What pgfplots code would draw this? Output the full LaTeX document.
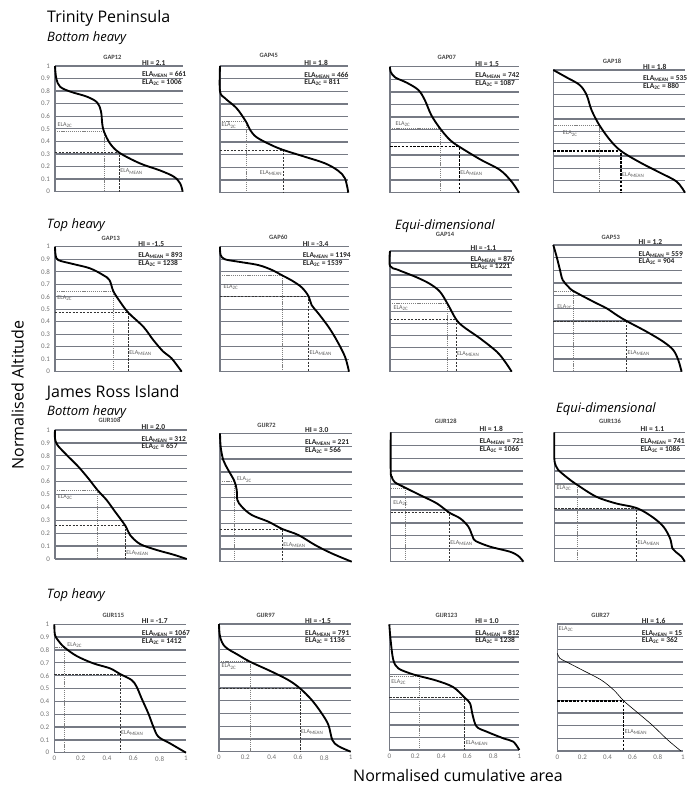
\documentclass[border=0pt]{standalone}
\usepackage{pgfplots}
\pgfplotsset{compat=1.18}
\usepackage{fontspec}
\setmainfont{Carlito}
\newfontfamily\headfont{Open Sans}

\definecolor{gridc}{RGB}{118,122,132}
\definecolor{tickc}{RGB}{115,115,115}
\definecolor{infoc}{RGB}{38,38,38}
\definecolor{ttlc}{RGB}{70,70,70}
\definecolor{labc}{RGB}{95,95,95}

\tikzset{
  infotext/.style={anchor=base west, inner sep=0pt, font=\fontsize{7.5}{8}\selectfont\bfseries, text=infoc},
  ptitle/.style={inner sep=0pt, font=\fontsize{6.5}{7}\selectfont\bfseries, text=ttlc},
  elalab/.style={inner sep=0.5pt, font=\fontsize{6}{7}\selectfont, text=labc},
  head/.style={anchor=base west, inner sep=0pt, font=\headfont\fontsize{16}{18}\selectfont},
  subhead/.style={anchor=base west, inner sep=0pt, font=\headfont\itshape\fontsize{13}{15}\selectfont},
}

\pgfplotsset{
  panel/.style={
    scale only axis, anchor=south west, clip=false,
    xmin=0, xmax=1, ymin=0, ymax=1,
    axis lines*=left,
    axis line style={draw=gridc, line width=1.3pt},
    xtick={0,0.2,0.4,0.6,0.8,1},
    ytick={0,0.1,0.2,0.3,0.4,0.5,0.6,0.7,0.8,0.9,1},
    xticklabels={}, yticklabels={},
    major tick length=0pt,
    ymajorgrids, grid style={draw=gridc, line width=1.3pt},
    ticklabel style={font=\fontsize{7}{8}\selectfont, text=tickc},
    yticklabel style={xshift=-1.5pt},
    /pgf/number format/assume math mode=true,
  },
  ylabs/.style={yticklabels={0,0.1,0.2,0.3,0.4,0.5,0.6,0.7,0.8,0.9,1}},
  xlabs/.style={xticklabels={0,0.2,0.4,0.6,0.8,1}},
  hyps/.style={black, line width=1.85pt, smooth, tension=0.55},
  ela2c/.style={draw=black!50, line width=0.5pt, dash pattern=on 1.2pt off 0.9pt},
  elamean/.style={draw=black!80, line width=0.6pt, dash pattern=on 2.2pt off 1.3pt},
  elameanbold/.style={draw=black, line width=1.3pt, dash pattern=on 2.6pt off 1.3pt},
}

% panel annotations
\newcommand{\info}[4]{%
  \node[infotext] at (rel axis cs:#1,1.005) {HI = #2};
  \node[infotext] at (rel axis cs:#1,0.913) {ELA\textsubscript{MEAN} = #3};
  \node[infotext] at (rel axis cs:#1,0.853) {ELA\textsubscript{2C} = #4};
}
\newcommand{\ptitle}[3]{\node[ptitle, yshift=#2pt] at (rel axis cs:#1,1) {#3};}
\newcommand{\labtwoc}[2]{\node[elalab, anchor=west] at (rel axis cs:#1,#2) {ELA\textsubscript{2C}};}
\newcommand{\labmean}[3]{\node[elalab, anchor=#3] at (rel axis cs:#1,#2) {ELA\textsubscript{MEAN}};}

\begin{document}
\begin{tikzpicture}

% ---------------- Trinity Peninsula ----------------
\node[head] at (47pt,-22.5pt) {Trinity Peninsula};
\node[subhead] at (47pt,-41.7pt) {Bottom heavy};

\begin{axis}[panel, ylabs, at={(55pt,-191.7pt)}, width=127.7pt, height=125.7pt]
\addplot[ela2c] coordinates {(0,0.477) (0.384,0.477) (0.384,0)};
\addplot[elamean] coordinates {(0,0.31) (0.504,0.31) (0.504,0)};
\addplot[hyps] coordinates {(0,1) (0.01,0.9) (0.04,0.835) (0.12,0.796) (0.25,0.756) (0.33,0.71) (0.36,0.64) (0.37,0.54) (0.384,0.477) (0.43,0.385) (0.504,0.31) (0.666,0.225) (0.82,0.17) (0.93,0.12) (0.98,0.066) (1,0)};
\ptitle{0.45}{8.5}{GAP12}
\info{0.68}{2.1}{661}{1006}
\labtwoc{0.016}{0.53}
\labmean{0.507}{0.16}{west}
\end{axis}

\begin{axis}[panel, at={(220pt,-192.7pt)}, width=128.3pt, height=126.7pt]
\addplot[ela2c] coordinates {(0,0.56) (0.203,0.56) (0.203,0)};
\addplot[elamean] coordinates {(0,0.337) (0.494,0.337) (0.494,0)};
\addplot[hyps] coordinates {(0,1) (0,0.8) (0.04,0.745) (0.13,0.666) (0.203,0.56) (0.235,0.495) (0.286,0.437) (0.40,0.376) (0.494,0.337) (0.66,0.284) (0.818,0.232) (0.92,0.174) (0.974,0.113) (1,0)};
\ptitle{0.38}{10.3}{GAP45}
\info{0.656}{1.8}{466}{811}
\labtwoc{0.008}{0.529}
\labmean{0.49}{0.157}{east}
\end{axis}

\begin{axis}[panel, at={(390pt,-192.7pt)}, width=129pt, height=126pt]
\addplot[ela2c] coordinates {(0,0.51) (0.388,0.51) (0.388,0)};
\addplot[elameanbold] coordinates {(0,0.365) (0.537,0.365) (0.537,0)};
\addplot[hyps] coordinates {(0,1) (0.005,0.96) (0.04,0.915) (0.13,0.873) (0.22,0.815) (0.27,0.735) (0.32,0.616) (0.388,0.51) (0.465,0.418) (0.537,0.365) (0.698,0.265) (0.853,0.18) (0.943,0.087) (1,0)};
\ptitle{0.44}{9}{GAP07}
\info{0.66}{1.5}{742}{1087}
\labtwoc{0.039}{0.545}
\labmean{0.54}{0.155}{west}
\end{axis}

\begin{axis}[panel, at={(553.3pt,-192.7pt)}, width=131.7pt, height=122.7pt]
\addplot[ela2c] coordinates {(0,0.552) (0.349,0.552) (0.349,0)};
\addplot[elameanbold] coordinates {(0,0.34) (0.514,0.34) (0.514,0)};
\addplot[hyps] coordinates {(0,1) (0.10,0.94) (0.20,0.878) (0.253,0.796) (0.29,0.674) (0.349,0.552) (0.43,0.43) (0.514,0.34) (0.658,0.247) (0.81,0.163) (0.937,0.09) (1,0)};
\ptitle{0.446}{8.3}{GAP18}
\info{0.68}{1.8}{535}{880}
\labtwoc{0.068}{0.482}
\labmean{0.517}{0.144}{west}
\end{axis}

\node[subhead] at (46.7pt,-228.3pt) {Top heavy};
\node[subhead] at (395pt,-229.3pt) {Equi-dimensional};

\begin{axis}[panel, ylabs, at={(55pt,-371.7pt)}, width=126.7pt, height=125pt]
\addplot[ela2c] coordinates {(0,0.645) (0.46,0.645) (0.46,0)};
\addplot[elamean] coordinates {(0,0.472) (0.579,0.472) (0.579,0)};
\addplot[hyps] coordinates {(0,1) (0.005,0.933) (0.026,0.893) (0.145,0.861) (0.276,0.827) (0.38,0.773) (0.43,0.733) (0.46,0.645) (0.51,0.565) (0.579,0.472) (0.697,0.36) (0.776,0.253) (0.855,0.16) (0.92,0.107) (1,0)};
\ptitle{0.44}{8.4}{GAP13}
\info{0.656}{-1.5}{893}{1238}
\labtwoc{0.013}{0.587}
\labmean{0.582}{0.15}{west}
\end{axis}

\begin{axis}[panel, at={(220pt,-371.7pt)}, width=129pt, height=125pt]
\addplot[ela2c] coordinates {(0,0.77) (0.483,0.77) (0.483,0)};
\addplot[elamean] coordinates {(0,0.603) (0.687,0.603) (0.687,0)};
\addplot[hyps] coordinates {(0,1) (0.005,0.933) (0.039,0.899) (0.142,0.88) (0.297,0.853) (0.40,0.815) (0.483,0.77) (0.556,0.73) (0.633,0.675) (0.687,0.603) (0.71,0.533) (0.762,0.467) (0.84,0.36) (0.904,0.253) (0.969,0.12) (1,0)};
\ptitle{0.452}{9}{GAP60}
\info{0.64}{-3.4}{1194}{1539}
\labtwoc{0.023}{0.68}
\labmean{0.69}{0.152}{west}
\end{axis}

\begin{axis}[panel, at={(390pt,-371.7pt)}, width=121.7pt, height=120.7pt]
\addplot[ela2c] coordinates {(0,0.566) (0.471,0.566) (0.471,0)};
\addplot[elamean] coordinates {(0,0.436) (0.542,0.436) (0.542,0)};
\addplot[hyps] coordinates {(0,1) (0,0.876) (0.068,0.843) (0.219,0.782) (0.329,0.727) (0.41,0.663) (0.471,0.566) (0.542,0.436) (0.603,0.373) (0.74,0.276) (0.877,0.166) (0.945,0.083) (1,0)};
\ptitle{0.452}{16.3}{GAP14}
\info{0.66}{-1.1}{876}{1221}
\labtwoc{0.025}{0.53}
\labmean{0.545}{0.146}{west}
\end{axis}

\begin{axis}[panel, at={(553.3pt,-371.7pt)}, width=128.3pt, height=126.7pt]
\addplot[ela2c] coordinates {(0,0.637) (0.156,0.637) (0.156,0)};
\addplot[elamean] coordinates {(0,0.4) (0.571,0.4) (0.571,0)};
\addplot[hyps] coordinates {(0,1) (0.026,0.908) (0.052,0.803) (0.073,0.724) (0.117,0.671) (0.156,0.637) (0.312,0.553) (0.416,0.5) (0.494,0.447) (0.571,0.4) (0.727,0.316) (0.857,0.237) (0.935,0.171) (0.974,0.092) (1,0)};
\ptitle{0.448}{7.8}{GAP53}
\info{0.664}{1.2}{559}{904}
\labtwoc{0.026}{0.51}
\labmean{0.574}{0.145}{west}
\end{axis}

% ---------------- James Ross Island ----------------
\node[head] at (46.7pt,-397.3pt) {James Ross Island};
\node[subhead] at (47pt,-415pt) {Bottom heavy};
\node[subhead] at (556pt,-412.7pt) {Equi-dimensional};

\begin{axis}[panel, ylabs, at={(55pt,-559pt)}, width=131.7pt, height=129pt]
\addplot[ela2c] coordinates {(0,0.535) (0.322,0.535) (0.322,0)};
\addplot[elamean] coordinates {(0,0.258) (0.534,0.258) (0.534,0)};
\addplot[hyps] coordinates {(0,1) (0,0.935) (0.018,0.884) (0.089,0.806) (0.177,0.716) (0.253,0.625) (0.322,0.535) (0.392,0.457) (0.456,0.367) (0.534,0.258) (0.57,0.186) (0.646,0.116) (0.772,0.07) (0.899,0.034) (1,0)};
\ptitle{0.414}{10}{GIJR108}
\info{0.657}{2.0}{312}{657}
\labtwoc{0.017}{0.478}
\labmean{0.537}{0.044}{west}
\end{axis}

\begin{axis}[panel, at={(220pt,-561.7pt)}, width=131.7pt, height=128.3pt]
\addplot[ela2c] coordinates {(0,0.629) (0.109,0.629) (0.109,0)};
\addplot[elamean] coordinates {(0,0.255) (0.473,0.255) (0.473,0)};
\addplot[hyps] coordinates {(0,1) (0.005,0.896) (0.025,0.792) (0.063,0.714) (0.109,0.629) (0.127,0.558) (0.132,0.481) (0.165,0.429) (0.241,0.364) (0.367,0.312) (0.473,0.255) (0.595,0.208) (0.722,0.13) (0.848,0.065) (1,0)};
\ptitle{0.354}{8}{GIJR72}
\info{0.644}{3.0}{221}{566}
\labtwoc{0.125}{0.64}
\labmean{0.476}{0.13}{west}
\end{axis}

\begin{axis}[panel, at={(390.7pt,-561.7pt)}, width=132.7pt, height=129.4pt]
\addplot[ela2c] coordinates {(0,0.57) (0.113,0.57) (0.113,0)};
\addplot[elamean] coordinates {(0,0.379) (0.442,0.379) (0.442,0)};
\addplot[hyps] coordinates {(0,1) (0,0.7) (0.008,0.657) (0.03,0.615) (0.113,0.57) (0.221,0.515) (0.347,0.451) (0.442,0.379) (0.523,0.335) (0.585,0.271) (0.618,0.193) (0.64,0.16) (0.749,0.116) (0.899,0.077) (0.962,0.044) (1,0)};
\ptitle{0.415}{10.6}{GIJR128}
\info{0.668}{1.8}{721}{1066}
\labtwoc{0.015}{0.456}
\labmean{0.445}{0.147}{west}
\end{axis}

\begin{axis}[panel, at={(554.3pt,-561.7pt)}, width=130.5pt, height=129.4pt]
\addplot[ela2c] coordinates {(0,0.595) (0.174,0.595) (0.174,0)};
\addplot[elamean] coordinates {(0,0.415) (0.63,0.415) (0.63,0)};
\addplot[hyps] coordinates {(0,1) (0,0.8) (0.012,0.74) (0.03,0.709) (0.106,0.644) (0.174,0.595) (0.32,0.503) (0.471,0.451) (0.63,0.415) (0.748,0.348) (0.836,0.271) (0.887,0.18) (0.905,0.103) (0.929,0.077) (0.975,0.039) (1,0)};
\ptitle{0.427}{10.6}{GIJR136}
\info{0.66}{1.1}{741}{1086}
\labtwoc{0.013}{0.567}
\labmean{0.633}{0.147}{west}
\end{axis}

\node[subhead] at (46.7pt,-598.3pt) {Top heavy};

\begin{axis}[panel, ylabs, xlabs, at={(54.3pt,-752.7pt)}, width=131.7pt, height=128.4pt]
\addplot[ela2c] coordinates {(0,0.821) (0.076,0.821) (0.076,0)};
\addplot[elamean] coordinates {(0,0.613) (0.499,0.613) (0.499,0)};
\addplot[hyps] coordinates {(0,1) (0.005,0.917) (0.03,0.873) (0.076,0.821) (0.17,0.753) (0.296,0.696) (0.423,0.657) (0.499,0.613) (0.587,0.566) (0.625,0.514) (0.663,0.423) (0.714,0.306) (0.752,0.203) (0.79,0.125) (0.878,0.073) (1,0)};
\ptitle{0.448}{9}{GIJR115}
\info{0.664}{-1.7}{1067}{1412}
\labtwoc{0.094}{0.84}
\labmean{0.502}{0.15}{west}
\end{axis}

\begin{axis}[panel, xlabs, at={(219pt,-751.7pt)}, width=131.7pt, height=127.7pt]
\addplot[ela2c] coordinates {(0,0.705) (0.235,0.705) (0.235,0)};
\addplot[elamean] coordinates {(0,0.496) (0.615,0.496) (0.615,0)};
\addplot[hyps] coordinates {(0,1) (0.008,0.901) (0.046,0.822) (0.147,0.757) (0.235,0.705) (0.4,0.627) (0.527,0.561) (0.615,0.496) (0.704,0.405) (0.78,0.3) (0.831,0.209) (0.861,0.091) (0.906,0.044) (1,0)};
\ptitle{0.355}{8.7}{GIJR97}
\info{0.653}{-1.5}{791}{1136}
\labtwoc{0.015}{0.666}
\labmean{0.618}{0.157}{west}
\end{axis}

\begin{axis}[panel, xlabs, at={(389.3pt,-750pt)}, width=130pt, height=125.7pt]
\addplot[ela2c] coordinates {(0,0.589) (0.227,0.589) (0.227,0)};
\addplot[elamean] coordinates {(0,0.416) (0.58,0.416) (0.58,0)};
\addplot[hyps] coordinates {(0,1) (0.01,0.875) (0.031,0.716) (0.069,0.65) (0.159,0.61) (0.227,0.589) (0.364,0.552) (0.492,0.5) (0.58,0.416) (0.621,0.371) (0.641,0.278) (0.672,0.186) (0.749,0.146) (0.877,0.093) (0.954,0.066) (1,0)};
\ptitle{0.44}{9}{GIJR123}
\info{0.66}{1.0}{812}{1238}
\labtwoc{0.011}{0.543}
\labmean{0.583}{0.053}{west}
\end{axis}

\begin{axis}[panel, xlabs, at={(557.3pt,-751pt)}, width=125.5pt, height=127pt]
\addplot[elameanbold] coordinates {(0,0.394) (0.53,0.394) (0.53,0)};
\addplot[black, line width=0.6pt, smooth, tension=0.5] coordinates {(0,0.769) (0.02,0.73) (0.071,0.703) (0.198,0.638) (0.35,0.559) (0.45,0.48) (0.53,0.394) (0.63,0.31) (0.755,0.205) (0.88,0.087) (0.985,0)};
\ptitle{0.345}{8.7}{GIJR27}
\info{0.672}{1.6}{15}{362}
\labtwoc{0.005}{0.958}
\labmean{0.533}{0.152}{west}
\end{axis}

% shared axis titles
\node[anchor=base, inner sep=0pt, font=\headfont\fontsize{16}{18}\selectfont] at (458pt,-781.5pt) {Normalised cumulative area};
\node[rotate=90, anchor=base, inner sep=0pt, font=\headfont\fontsize{16}{18}\selectfont] at (23.5pt,-395pt) {Normalised Altitude};

\pgfresetboundingbox
\useasboundingbox (0,0) rectangle (686pt,-786pt);
\end{tikzpicture}
\end{document}
